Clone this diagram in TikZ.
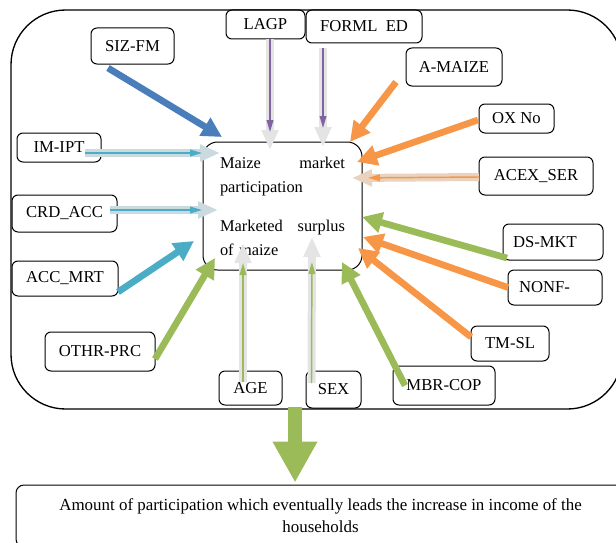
\documentclass[tikz,border=0pt]{standalone}
\usepackage{fontspec}
\setmainfont{Liberation Serif}
\usetikzlibrary{arrows.meta,calc}

\definecolor{bluearr}{HTML}{4A7EBB}
\definecolor{tealarr}{HTML}{4BACC6}
\definecolor{orangearr}{HTML}{F79646}
\definecolor{greenarr}{HTML}{9BBB59}
\definecolor{purplearr}{HTML}{8064A2}
\definecolor{backgray}{HTML}{E4E4E4}
\definecolor{backteal}{HTML}{CBDADF}
\definecolor{backtan}{HTML}{E9D3BF}

\begin{document}
\begin{tikzpicture}[x=0.75pt, y=-0.75pt, font=\fontsize{12.5}{15}\selectfont,
  factorbox/.style={draw, line width=0.75pt, rounded corners=4.5pt, inner sep=2pt, outer sep=0pt},
  fatarrow/.style={line width=5pt, -{Triangle[length=15pt, width=15pt]}},
  backarrow/.style={line width=6pt, draw=#1, -{Triangle[length=15pt, width=12pt]}},
  thinarrow/.style={line width=1.1pt, -{Triangle[length=9pt, width=5pt]}}]
	\path[use as bounding box, clip] (0,0) rectangle (616,542);
	% outer frame and result box
	\node[draw, line width=1pt, rounded corners=41pt, minimum width=458.25pt, minimum height=299.25pt] (frame) at (316.5,209.5) {};
	\node[draw, line width=0.75pt, rounded corners=6pt, minimum width=456.75pt, minimum height=46.5pt, align=center, font=\fontsize{12.7}{16.5}\selectfont] (income) at (320.5,516) {Amount of participation which eventually leads the increase in income of the\\households};
	% central node
	\node[factorbox, rounded corners=11pt, minimum width=119.25pt, minimum height=96pt, text width=93.75pt, align=left, font=\fontsize{12.3}{18}\selectfont] (mp) at (282.5,206) {Maize\hfill market\\participation\\[11.25pt]Marketed\hfill surplus\\of maize};
	% factors
	\node[factorbox, minimum width=59.25pt, minimum height=21.75pt] (lagp) at (265.5,24.5) {LAGP};
	\node[factorbox, minimum width=87pt, minimum height=24.75pt] (forml) at (364,26.5) {FORML\ \ ED};
	\node[factorbox, minimum width=62.25pt, minimum height=27pt] (sizfm) at (132.5,46) {SIZ-FM};
	\node[factorbox, minimum width=72pt, minimum height=28.5pt] (amaize) at (454,67) {A-MAIZE};
	\node[factorbox, minimum width=56.25pt, minimum height=21.75pt] (oxno) at (516.5,118.5) {OX No};
	\node[factorbox, minimum width=85.5pt, minimum height=28.5pt] (acex) at (536,176) {ACEX\_SER};
	\node[factorbox, minimum width=63pt, minimum height=21.75pt] (imipt) at (59,147.5) {IM-IPT};
	\node[factorbox, minimum width=78.75pt, minimum height=27.75pt] (crdacc) at (64.5,213.5) {CRD\_ACC};
	\node[factorbox, minimum width=79.5pt, minimum height=26.25pt] (accmrt) at (65,278.5) {ACC\_MRT};
	\node[factorbox, minimum width=75pt, minimum height=27pt, text width=60pt, align=left] (dsmkt) at (553,242) {DS-MKT};
	\node[factorbox, minimum width=70.5pt, minimum height=26.25pt, text width=54pt, align=left] (nonf) at (555,287.5) {NONF-};
	\node[factorbox, minimum width=58.5pt, minimum height=26.25pt] (tmsl) at (510,343.5) {TM-SL};
	\node[factorbox, minimum width=76.5pt, minimum height=29.25pt] (mbrcop) at (444,385.5) {MBR-COP};
	\node[factorbox, minimum width=41.25pt, minimum height=27.75pt] (sex) at (333.5,389.5) {SEX};
	\node[factorbox, minimum width=47.25pt, minimum height=25.5pt] (age) at (250.5,388) {AGE};
	\node[factorbox, minimum width=82.5pt, minimum height=29.25pt] (othr) at (100,351.5) {OTHR-PRC};
	% connectors
	\draw[fatarrow, bluearr] ($(sizfm.south)+(-24.5,4)$) -- ($(mp.north west)+(19,-5)$);
	\draw[backarrow=backteal] ($(imipt.east)+(-16,5.5)$) -- ($(mp.north west)+(17,11)$);
	\draw[thinarrow, tealarr, shorten >=13.5pt] ($(imipt.east)+(-16,5.5)$) -- ($(mp.north west)+(17,11)$);
	\draw[backarrow=backteal] ($(crdacc.east)+(-7,-3.5)$) -- ($(mp.north west)+(15,68)$);
	\draw[thinarrow, tealarr, shorten >=12pt] ($(crdacc.east)+(-7,-3.5)$) -- ($(mp.north west)+(15,68)$);
	\draw[fatarrow, tealarr] ($(accmrt.east)+(0,13.5)$) -- ($(mp.west)+(-9,35)$);
	\draw[backarrow=backgray] ($(lagp.south)+(4.5,0)$) -- ($(mp.north west)+(67,8)$);
	\draw[thinarrow, purplearr, shorten >=13.5pt] ($(lagp.south)+(4.5,0)$) -- ($(mp.north west)+(67,8)$);
	\draw[backarrow=backgray] ($(forml.south)+(-41,5)$) -- ($(mp.north west)+(120,5)$);
	\draw[thinarrow, purplearr, shorten >=14.25pt] ($(forml.south)+(-41,5)$) -- ($(mp.north west)+(120,5)$);
	\draw[fatarrow, orangearr] ($(amaize.south west)+(-10,-4)$) -- ($(mp.north east)+(-12,0)$);
	\draw[fatarrow, orangearr] ($(oxno.west)+(-1,1.5)$) -- ($(mp.north east)+(-5,20)$);
	\draw[backarrow=backtan] ($(acex.west)+(0,1)$) -- ($(mp.north east)+(-10,36)$);
	\draw[thinarrow, orangearr, shorten >=12pt] ($(acex.west)+(0,1)$) -- ($(mp.north east)+(-10,36)$);
	\draw[fatarrow, greenarr] ($(dsmkt.south west)+(4,-2)$) -- ($(mp.east)+(0,11)$);
	\draw[fatarrow, orangearr] (nonf.west) -- ($(mp.east)+(1,31)$);
	\draw[fatarrow, orangearr] ($(tmsl.west)+(0,-6.5)$) -- ($(mp.east)+(-4,42)$);
	\draw[fatarrow, greenarr] ($(mbrcop.west)+(12,0)$) -- ($(mp.south east)+(-20,-8)$);
	\draw[fatarrow, greenarr] ($(othr.east)+(0,7.5)$) -- ($(mp.south west)+(12,-12)$);
	\draw[backarrow=backgray] ($(age.north)+(-7.5,11)$) -- ($(mp.south west)+(40,-27)$);
	\draw[thinarrow, greenarr, shorten >=15pt] ($(age.north)+(-7.5,11)$) -- ($(mp.south west)+(40,-27)$);
	\draw[backarrow=backgray] ($(sex.north)+(-22,12)$) -- ($(mp.south)+(29.5,-33)$);
	\draw[thinarrow, greenarr, shorten >=18.75pt] ($(sex.north)+(-22,12)$) -- ($(mp.south)+(29.5,-33)$);
	% result
	\draw[greenarr, line width=10.5pt, -{Triangle[length=30.75pt, width=31.5pt]}] ($(frame.south)+(-21.5,-3)$) -- ($(income.north)+(-25.5,-2)$);
\end{tikzpicture}
\end{document}
